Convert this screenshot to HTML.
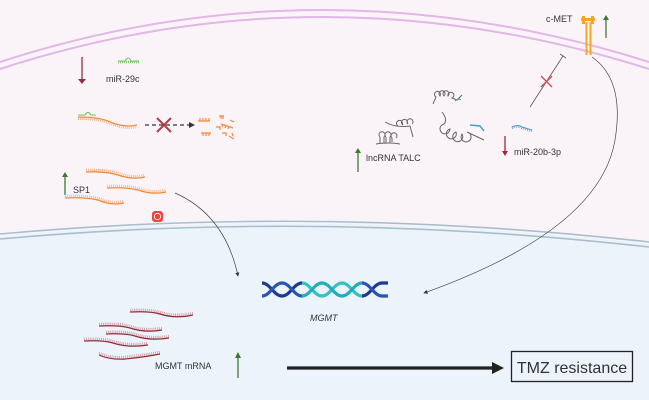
<!DOCTYPE html>
<html><head><meta charset="utf-8"><style>
html,body{margin:0;padding:0;width:649px;height:400px;overflow:hidden;background:#faf4f9}
svg{display:block}
text{font-family:"Liberation Sans",sans-serif;fill:#333}
</style></head><body>
<svg width="649" height="400" viewBox="0 0 649 400" xmlns="http://www.w3.org/2000/svg">
<defs>
<marker id="ah" markerWidth="6" markerHeight="6" refX="5" refY="3" orient="auto"><path d="M0,0 L6,3 L0,6 z" fill="#333"/></marker>
</defs>
<rect width="649" height="400" fill="#faf4f9"/>
<!-- outer membrane -->
<path d="M0,62 Q320,-42 649,62" fill="none" stroke="#e2b6e6" stroke-width="2"/>
<path d="M0,69 Q320,-35 649,69" fill="none" stroke="#e2b6e6" stroke-width="2"/>
<!-- nucleus -->
<path d="M0,236 Q320,207 649,244 L649,400 L0,400 Z" fill="#edf3fb"/>
<path d="M0,234 Q320,205 649,242" fill="none" stroke="#a8bfcb" stroke-width="1.6"/>
<path d="M0,239 Q320,210 649,247" fill="none" stroke="#a8bfcb" stroke-width="1.6"/>

<!-- miR-29c -->
<line x1="82" y1="57" x2="82" y2="80" stroke="#9b2d3a" stroke-width="1.3"/>
<path d="M78,79 L86,79 L82,84 z" fill="#9b2d3a"/>
<text x="106" y="82" font-size="9">miR-29c</text>
<path d="M118,61 L125,61 Q128,55 131,61 L139,61" fill="none" stroke="#6bbf5a" stroke-width="1"/>
<path d="M118,62 h21" stroke="#6bbf5a" stroke-width="2.5" stroke-dasharray="0.8 1.2"/>
<!-- mRNA with miR -->
<path d="M78,115 L85,115 Q88,110 91,115 L96,115" fill="none" stroke="#6bbf5a" stroke-width="1"/>
<path d="M78,117 Q100,117 110,122 Q125,128 137,125" fill="none" stroke="#f08a3c" stroke-width="1.3"/>
<path d="M78,119 Q100,119 110,124 Q125,130 137,127" fill="none" stroke="#f5b080" stroke-width="2" stroke-dasharray="0.8 1.2"/>
<line x1="145" y1="125" x2="190" y2="125" stroke="#333" stroke-width="1.2" stroke-dasharray="4 3"/>
<path d="M189,122 L195,125 L189,128 z" fill="#333"/>
<path d="M157,118 L171,132 M171,118 L157,132" stroke="#b03a3f" stroke-width="2"/>
<g stroke="#f08a3c" stroke-width="1.2" fill="none">
<path d="M198,121 h12 M200,118 v3 M203,118 v3 M206,118 v3 M209,118 v3"/>
<path d="M201,133 h10 M203,133 v3 M206,133 v3 M209,133 v3"/>
<path d="M219,116 h5 M221,116 v3 M223,116 v3"/>
<path d="M216,127 h4 v3"/><path d="M222,133 h4 v3"/>
<path d="M221,124 l12,4 M223,124 l-1,3 M226,125 l-1,3 M229,126 l-1,3"/>
<path d="M230,120 l4,2"/><path d="M229,136 l5,3 M232,133 l1,3"/>
</g>
<!-- SP1 -->
<line x1="65" y1="176" x2="65" y2="195" stroke="#3d7a2f" stroke-width="1.3"/>
<path d="M62,177 L68,177 L65,172 z" fill="#3d7a2f"/>
<text x="73" y="193" font-size="9">SP1</text>
<g fill="none">
<path d="M86,172 Q105,171 118,175 Q132,180 145,177" stroke="#f08a3c" stroke-width="1.3"/>
<path d="M86,170 Q105,169 118,173 Q132,178 145,175" stroke="#f5b080" stroke-width="2.5" stroke-dasharray="0.8 1.2"/>
<path d="M107,188 Q125,187 138,190 Q152,195 166,192" stroke="#f08a3c" stroke-width="1.3"/>
<path d="M107,186 Q125,185 138,188 Q152,193 166,190" stroke="#f5b080" stroke-width="2.5" stroke-dasharray="0.8 1.2"/>
<path d="M65,198 Q85,197 98,200 Q112,206 124,203" stroke="#f08a3c" stroke-width="1.3"/>
<path d="M65,196 Q85,195 98,198 Q112,204 124,201" stroke="#f5b080" stroke-width="2.5" stroke-dasharray="0.8 1.2"/>
</g>
<rect x="152" y="211" width="11" height="11" rx="3" fill="#e8473f"/>
<circle cx="157.5" cy="216.5" r="3.2" fill="none" stroke="#fff" stroke-width="0.8"/>
<path d="M175,193 Q225,215 238,276" fill="none" stroke="#444" stroke-width="0.7" marker-end="url(#ah)"/>

<!-- lncRNA -->
<line x1="358" y1="152" x2="358" y2="172" stroke="#3d7a2f" stroke-width="1.3"/>
<path d="M355,153 L361,153 L358,148 z" fill="#3d7a2f"/>
<text x="366" y="161" font-size="9">lncRNA TALC</text>
<g fill="none" stroke="#666" stroke-width="1">
<path d="M376,144 Q390,142 400,144 M380,143 v-6 M380,137 a3,3 0 1 1 4,0 v6 M386,143 v-6 M386,137 a3,3 0 1 1 4,0 v6 M392,142 v-4 a3,3 0 1 1 4,0"/>
<path d="M385,122 Q395,128 410,126 L413,137 M398,126 a3,3 0 1 1 4,-1 M403,125 a3,3 0 1 1 4,-1 M408,124 a3,3 0 1 1 4,0"/>
<path d="M433,104 L436,97 a3,3 0 1 1 4,-1 a3,3 0 1 1 4,0 a3,3 0 1 1 4,0 a3,3 0 1 1 4,2 L457,100 L462,95"/>
<path d="M442,112 Q448,120 444,124 a5,5 0 1 0 6,5 a5,5 0 1 0 6,3 a5,5 0 1 0 6,2 a5,5 0 1 0 5,-2 L484,140"/>
</g>
<path d="M455,101 q3,-3 6,-1" fill="none" stroke="#4a9bc7" stroke-width="1"/>
<path d="M470,125 L480,126 L484,131" fill="none" stroke="#4a9bc7" stroke-width="1.5"/>
<!-- miR-20b-3p -->
<line x1="505" y1="136" x2="505" y2="152" stroke="#9b2d3a" stroke-width="1.3"/>
<path d="M502,151 L508,151 L505,156 z" fill="#9b2d3a"/>
<text x="514" y="155" font-size="9">miR-20b-3p</text>
<path d="M512,127 Q518,124 522,127 L532,130" fill="none" stroke="#4a9bc7" stroke-width="1"/>
<path d="M512,128 Q518,125 522,128 L532,131" fill="none" stroke="#4a9bc7" stroke-width="2.5" stroke-dasharray="0.7 1.3"/>
<line x1="530" y1="107" x2="563" y2="56" stroke="#555" stroke-width="0.8"/>
<line x1="560" y1="54" x2="566" y2="58" stroke="#555" stroke-width="0.8"/>
<path d="M541,76 L552,87 M552,76 L541,87" stroke="#d04a4a" stroke-width="1.3"/>
<!-- c-MET -->
<text x="546" y="22" font-size="9">c-MET</text>
<g fill="#f5a623">
<rect x="581" y="18" width="14" height="3"/>
<rect x="582" y="16" width="3" height="8"/><rect x="591" y="16" width="3" height="8"/>
<rect x="585.5" y="22" width="2" height="33"/><rect x="589.5" y="22" width="2" height="33"/>
</g>
<line x1="606" y1="19" x2="606" y2="38" stroke="#3d7a2f" stroke-width="1.3"/>
<path d="M603,20 L609,20 L606,15 z" fill="#3d7a2f"/>
<path d="M592,57 Q625,80 615,140 Q600,230 424,293" fill="none" stroke="#444" stroke-width="0.7" marker-end="url(#ah)"/>

<!-- DNA -->
<g fill="none" stroke-width="3.2">
<path d="M262,283 C270,283 274,296 282,296 C290,296 294,283 302,283" stroke="#1e3c8f"/>
<path d="M262,296 C270,296 274,283 282,283 C290,283 294,296 302,296" stroke="#2a56b0"/>
<path d="M302,283 C310,283 314,296 322,296 C330,296 334,283 342,283 C350,283 354,296 362,296" stroke="#2fc3c3"/>
<path d="M302,296 C310,296 314,283 322,283 C330,283 334,296 342,296 C350,296 354,283 362,283" stroke="#22aeb8"/>
<path d="M362,296 C370,296 374,283 382,283 L388,283" stroke="#1e3c8f"/>
<path d="M362,283 C370,283 374,296 382,296 L388,296" stroke="#2a56b0"/>
</g>
<text x="310" y="321" font-size="9" font-style="italic">MGMT</text>

<!-- MGMT mRNA strands -->
<g fill="none">
<path d="M130,312 Q150,311 160,314 Q175,319 193,315" stroke="#8e2a34" stroke-width="1.2"/>
<path d="M130,310 Q150,309 160,312 Q175,317 193,313" stroke="#c98b92" stroke-width="2.5" stroke-dasharray="0.7 1.2"/>
<path d="M99,326 Q120,325 130,328 Q145,333 162,330" stroke="#8e2a34" stroke-width="1.2"/>
<path d="M99,324 Q120,323 130,326 Q145,331 162,328" stroke="#c98b92" stroke-width="2.5" stroke-dasharray="0.7 1.2"/>
<path d="M106,334 Q125,333 135,336 Q150,341 169,338" stroke="#8e2a34" stroke-width="1.2"/>
<path d="M106,332 Q125,331 135,334 Q150,339 169,336" stroke="#c98b92" stroke-width="2.5" stroke-dasharray="0.7 1.2"/>
<path d="M84,341 Q103,340 113,343 Q128,348 148,345" stroke="#8e2a34" stroke-width="1.2"/>
<path d="M84,339 Q103,338 113,341 Q128,346 148,343" stroke="#c98b92" stroke-width="2.5" stroke-dasharray="0.7 1.2"/>
<path d="M99,355 Q110,360 125,359 Q145,357 160,354" stroke="#8e2a34" stroke-width="1.2"/>
<path d="M99,353 Q110,358 125,357 Q145,355 160,352" stroke="#c98b92" stroke-width="2.5" stroke-dasharray="0.7 1.2"/>
</g>
<text x="155" y="369" font-size="9">MGMT mRNA</text>
<line x1="238" y1="357" x2="238" y2="378" stroke="#3d7a2f" stroke-width="1.3"/>
<path d="M235,358 L241,358 L238,352 z" fill="#3d7a2f"/>

<!-- big arrow -->
<line x1="287" y1="368" x2="495" y2="368" stroke="#222" stroke-width="3.2"/>
<path d="M492,362 L504,368 L492,374 z" fill="#222"/>
<rect x="511.5" y="351.5" width="121" height="30" fill="none" stroke="#222" stroke-width="1.3"/>
<text x="572" y="373" font-size="16" text-anchor="middle" fill="#111">TMZ resistance</text>
</svg>
</body></html>
